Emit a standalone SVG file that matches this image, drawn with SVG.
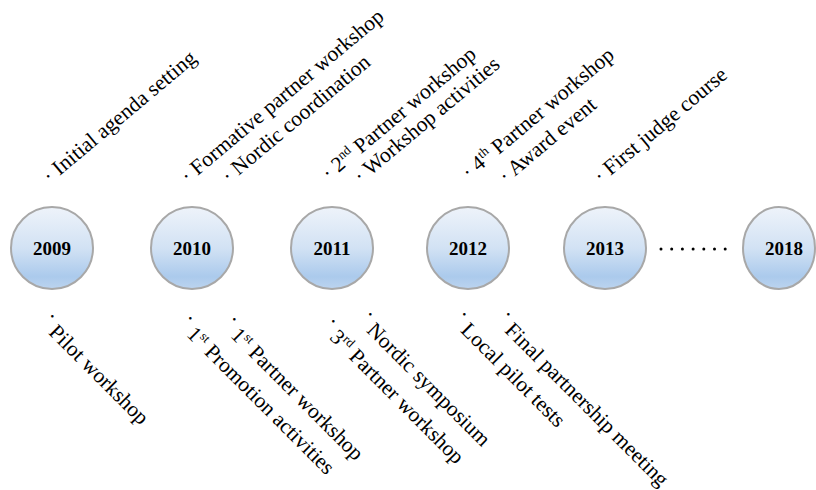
<svg xmlns="http://www.w3.org/2000/svg" width="816" height="490" viewBox="0 0 816 490">
<defs>
<linearGradient id="g" x1="0" y1="0" x2="0" y2="1">
<stop offset="0" stop-color="#eef3fa"/>
<stop offset="0.5" stop-color="#d2e2f4"/>
<stop offset="0.85" stop-color="#abcaec"/>
<stop offset="1" stop-color="#bcd4ef"/>
</linearGradient>
<style>
.c{fill:url(#g);stroke:#a8a8a8;stroke-width:2}
.y{font-family:"Liberation Serif",serif;font-weight:bold;font-size:19px;text-anchor:middle;fill:#000}
.t{font-family:"Liberation Serif",serif;font-size:21.5px;fill:#000}
.s{font-size:13px}
.d{fill:#000}
</style>
</defs>
<rect width="816" height="490" fill="#fff"/>
<g id="n2009"><circle class="c" cx="52" cy="248" r="41"/><text class="y" x="52" y="255">2009</text></g>
<g id="n2010"><circle class="c" cx="192" cy="248" r="41"/><text class="y" x="192" y="255">2010</text></g>
<g id="n2011"><circle class="c" cx="332" cy="248" r="41"/><text class="y" x="332" y="255">2011</text></g>
<g id="n2012"><circle class="c" cx="468" cy="248" r="41"/><text class="y" x="468" y="255">2012</text></g>
<g id="n2013"><circle class="c" cx="605" cy="248" r="41"/><text class="y" x="605" y="255">2013</text></g>
<g id="n2018"><ellipse class="c" cx="779" cy="248" rx="36" ry="41"/><text class="y" x="784" y="255">2018</text></g>
<g id="connectors">
<circle class="d" cx="661" cy="249" r="1.5"/>
<circle class="d" cx="671.7" cy="249" r="1.5"/>
<circle class="d" cx="682.4" cy="249" r="1.5"/>
<circle class="d" cx="693.1" cy="249" r="1.5"/>
<circle class="d" cx="703.8" cy="249" r="1.5"/>
<circle class="d" cx="714.5" cy="249" r="1.5"/>
<circle class="d" cx="725.2" cy="249" r="1.5"/>
</g>
<g id="top-labels">
<text class="t" transform="translate(50,184) rotate(-40)">· Initial agenda setting</text>
<text class="t" transform="translate(188,184) rotate(-40)">· Formative partner workshop</text>
<text class="t" transform="translate(229,184) rotate(-40)">· Nordic coordination</text>
<text class="t" transform="translate(329,181) rotate(-40)">· 2<tspan class="s" dy="-8">nd</tspan><tspan dy="8"> Partner workshop</tspan></text>
<text class="t" transform="translate(361,184) rotate(-40)">· Workshop activities</text>
<text class="t" transform="translate(469,180) rotate(-40)">· 4<tspan class="s" dy="-8">th</tspan><tspan dy="8"> Partner workshop</tspan></text>
<text class="t" transform="translate(506,184) rotate(-40)">· Award event</text>
<text class="t" transform="translate(601,184) rotate(-40)">· First judge course</text>
</g>
<g id="bottom-labels">
<text class="t" transform="translate(39,324.5) rotate(45)"><tspan dy="-8">·</tspan><tspan dy="8"> Pilot workshop</tspan></text>
<text class="t" transform="translate(177,326.5) rotate(45)"><tspan dy="-8">·</tspan><tspan dy="8"> 1</tspan><tspan class="s" dy="-8">st</tspan><tspan dy="8"> Promotion activities</tspan></text>
<text class="t" transform="translate(221,327.5) rotate(45)"><tspan dy="-8">·</tspan><tspan dy="8"> 1</tspan><tspan class="s" dy="-8">st</tspan><tspan dy="8"> Partner workshop</tspan></text>
<text class="t" transform="translate(320,329.5) rotate(45)"><tspan dy="-8">·</tspan><tspan dy="8"> 3</tspan><tspan class="s" dy="-8">rd</tspan><tspan dy="8"> Partner workshop</tspan></text>
<text class="t" transform="translate(357,322.5) rotate(45)"><tspan dy="-8">·</tspan><tspan dy="8"> Nordic symposium</tspan></text>
<text class="t" transform="translate(451,322.5) rotate(45)"><tspan dy="-8">·</tspan><tspan dy="8"> Local pilot tests</tspan></text>
<text class="t" transform="translate(495,322.5) rotate(45)"><tspan dy="-8">·</tspan><tspan dy="8"> Final partnership meeting</tspan></text>
</g>
</svg>
